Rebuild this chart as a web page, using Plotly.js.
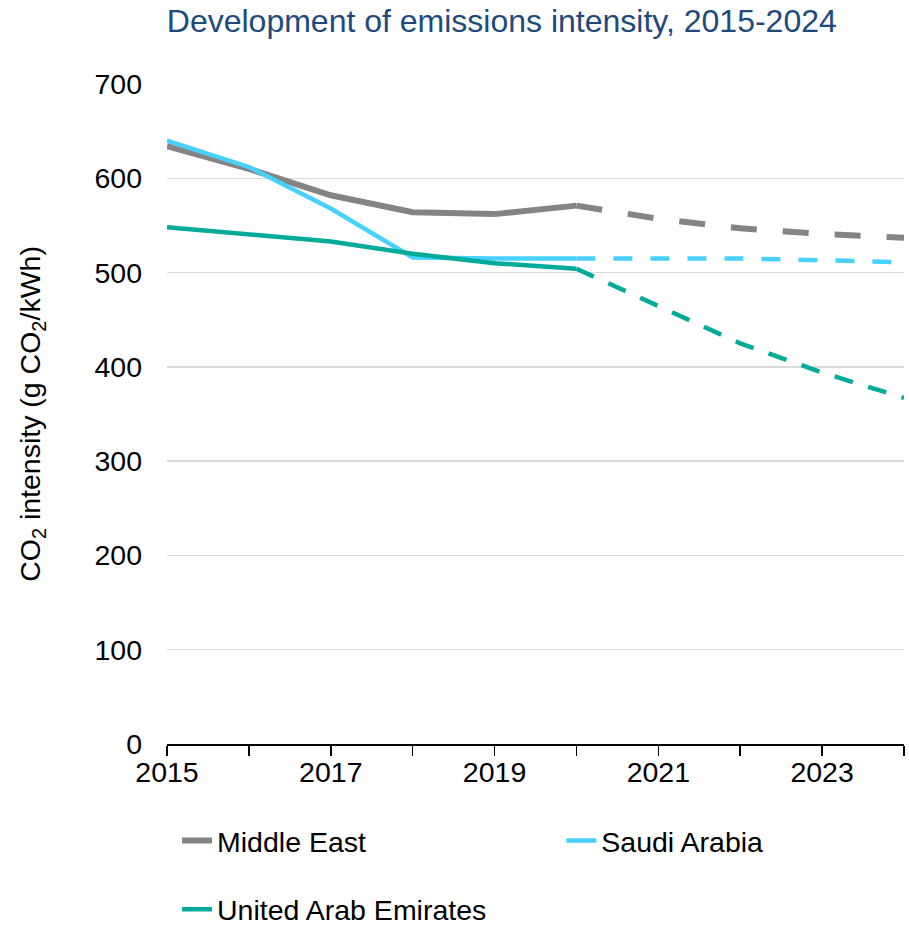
<!DOCTYPE html>
<html>
<head>
<meta charset="utf-8">
<script src="https://cdn.plot.ly/plotly-3.0.1.min.js"></script>
<style>html,body{margin:0;padding:0;background:#fff;}#chart{width:909px;height:925px;}</style>
</head>
<body>
<div id="chart"></div>
<script>
const years = [2015, 2016, 2017, 2018, 2019, 2020, 2021, 2022, 2023, 2024];
const middleEast = [634, 610, 582, 564, 562, 571, 557, 547, 541, 537];
const saudiArabia = [640, 612, 568, 516, 515, 515, 515, 515, 513, 511];
const uae = [548, 540, 533, 520, 510, 504, 464, 425, 394, 367];
const lastActualYear = 2020;
const xTickVals = years;
const xTickText = ['2015', '', '2017', '', '2019', '', '2021', '', '2023', ''];
const yTickVals = [0, 100, 200, 300, 400, 500, 600, 700];

const series = [
  {name: 'Middle East', values: middleEast, color: '#848484', width: 6, dash: '26px,26px', legend: 'legend'},
  {name: 'Saudi Arabia', values: saudiArabia, color: '#48D1FF', width: 4.5, dash: '19px,18px', legend: 'legend2'},
  {name: 'United Arab Emirates', values: uae, color: '#00AB99', width: 4.5, dash: '19px,16px', legend: 'legend3'}
];

const traces = [];
series.forEach(s => {
  const solidX = [], solidY = [], dashX = [], dashY = [];
  years.forEach((yr, i) => {
    if (yr <= lastActualYear) { solidX.push(yr); solidY.push(s.values[i]); }
    if (yr >= lastActualYear) { dashX.push(yr); dashY.push(s.values[i]); }
  });
  traces.push({x: solidX, y: solidY, type: 'scatter', mode: 'lines', name: s.name,
    legend: s.legend, line: {color: s.color, width: s.width}, hoverinfo: 'skip'});
  traces.push({x: dashX, y: dashY, type: 'scatter', mode: 'lines', name: s.name,
    showlegend: false, line: {color: s.color, width: s.width, dash: s.dash}, hoverinfo: 'skip'});
});

const FS = 28.5;
const font = {family: 'Liberation Sans, Arial, sans-serif', size: FS, color: '#000'};
const legendBase = {orientation: 'h', xanchor: 'left', yanchor: 'middle', yref: 'container', font: font,
  bgcolor: 'rgba(0,0,0,0)', borderwidth: 0};

const layout = {
  width: 909, height: 925,
  margin: {l: 167, r: 5, t: 84, b: 181, autoexpand: false},
  paper_bgcolor: '#fff', plot_bgcolor: '#fff',
  font: font,
  showlegend: true,
  title: {text: 'Development of emissions intensity, 2015-2024', xref: 'container', x: 0.552, xanchor: 'center',
    yref: 'container', y: 0.978, yanchor: 'middle',
    font: {family: 'Liberation Sans, Arial, sans-serif', size: 32, color: '#1F497D'}},
  xaxis: {range: [2015, 2024], tickvals: xTickVals, ticktext: xTickText, ticks: 'outside', ticklen: 10,
    tickwidth: 1.5, tickcolor: '#000', showline: true, linecolor: '#000', linewidth: 2,
    showgrid: false, zeroline: false, tickfont: font, ticklabelstandoff: -8},
  yaxis: {range: [0, 700], tickvals: yTickVals, showgrid: true, gridcolor: '#D9D9D9', gridwidth: 1.5,
    zeroline: false, showline: false, ticks: '', ticklabelstandoff: 24, tickfont: font,
    title: {text: 'CO<sub>2</sub> intensity (g CO<sub>2</sub>/kWh)', font: font, standoff: 45}},
  legend: Object.assign({}, legendBase, {x: 0.0136, y: 0.0908}),
  legend2: Object.assign({}, legendBase, {x: 0.535, y: 0.0908}),
  legend3: Object.assign({}, legendBase, {x: 0.0136, y: 0.0165})
};

Plotly.newPlot('chart', traces, layout, {displayModeBar: false, staticPlot: true});
</script>
</body>
</html>
